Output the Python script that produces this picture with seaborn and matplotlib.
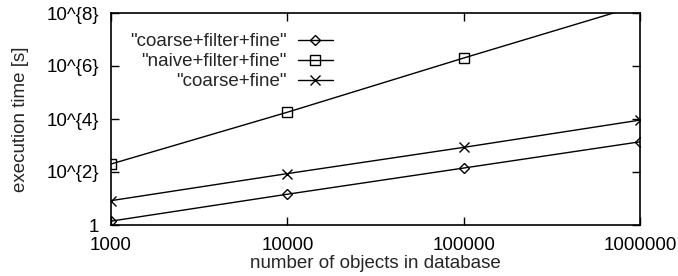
import seaborn as sns
import pandas as pd
import matplotlib.pyplot as plt
from matplotlib.lines import Line2D

# data
n_objects = [1000, 10000, 100000, 1000000]
coarse_filter_fine = [1.4, 14.5, 141, 1380]
naive_filter_fine = [200, 18000, 2.0e6, 2.0e8]
coarse_fine = [8.3, 87, 850, 9100]

series_names = ['"coarse+filter+fine"', '"naive+filter+fine"', '"coarse+fine"']
series_values = [coarse_filter_fine, naive_filter_fine, coarse_fine]
series_markers = ['D', 's', 'x']
series_msize = [5, 6.5, 6.5]

y_ticks = [1, 1e2, 1e4, 1e6, 1e8]
y_tick_labels = ['1', '10^{2}', '10^{4}', '10^{6}', '10^{8}']
x_ticks = [1000, 10000, 100000, 1000000]
x_tick_labels = ['1000', '10000', '100000', '1000000']

fs = 13.5
sns.set_style('ticks')
plt.rcParams['font.family'] = ['Liberation Sans', 'DejaVu Sans']
plt.rcParams['font.size'] = fs

fig = plt.figure(figsize=(6.78, 2.76), dpi=100)
ax = fig.add_axes([111 / 678, 1 - 225 / 276, 529 / 678, 212 / 276])

handles = []
for name, vals, mk, ms in zip(series_names, series_values, series_markers, series_msize):
    df = pd.DataFrame({'n': n_objects, 't': vals})
    sns.lineplot(data=df, x='n', y='t', ax=ax, color='black', linewidth=1,
                 marker=mk, markersize=ms, markerfacecolor='none',
                 markeredgecolor='black', markeredgewidth=1)
    handles.append(Line2D([], [], color='black', linewidth=1, marker=mk,
                          markersize=ms, markerfacecolor='none',
                          markeredgecolor='black', markeredgewidth=1))

ax.set_xscale('log')
ax.set_yscale('log')
ax.set_xlim(1000, 1000000)
ax.set_ylim(1, 1e8)
ax.set_xticks(x_ticks)
ax.set_xticklabels(x_tick_labels)
ax.set_yticks(y_ticks)
ax.set_yticklabels(y_tick_labels)
ax.minorticks_off()
ax.tick_params(direction='in', length=6, width=1, top=True, right=True,
               labelsize=fs, colors='black', pad=8.5)
for sp in ax.spines.values():
    sp.set_linewidth(1.2)
    sp.set_color('black')

ax.set_xlabel('number of objects in database', fontsize=fs)
ax.set_ylabel('execution time [s]', fontsize=fs)
ax.xaxis.set_label_coords(0.5, -0.142)
ax.yaxis.set_label_coords(-0.155, 0.5)

ax.legend(handles, series_names, loc='upper right', bbox_to_anchor=(0.42, 0.905),
          frameon=False, markerfirst=False, handlelength=1.9, handletextpad=0.6,
          labelspacing=0.15, borderpad=0, borderaxespad=0, fontsize=fs)

plt.savefig('out.png', dpi=100)
